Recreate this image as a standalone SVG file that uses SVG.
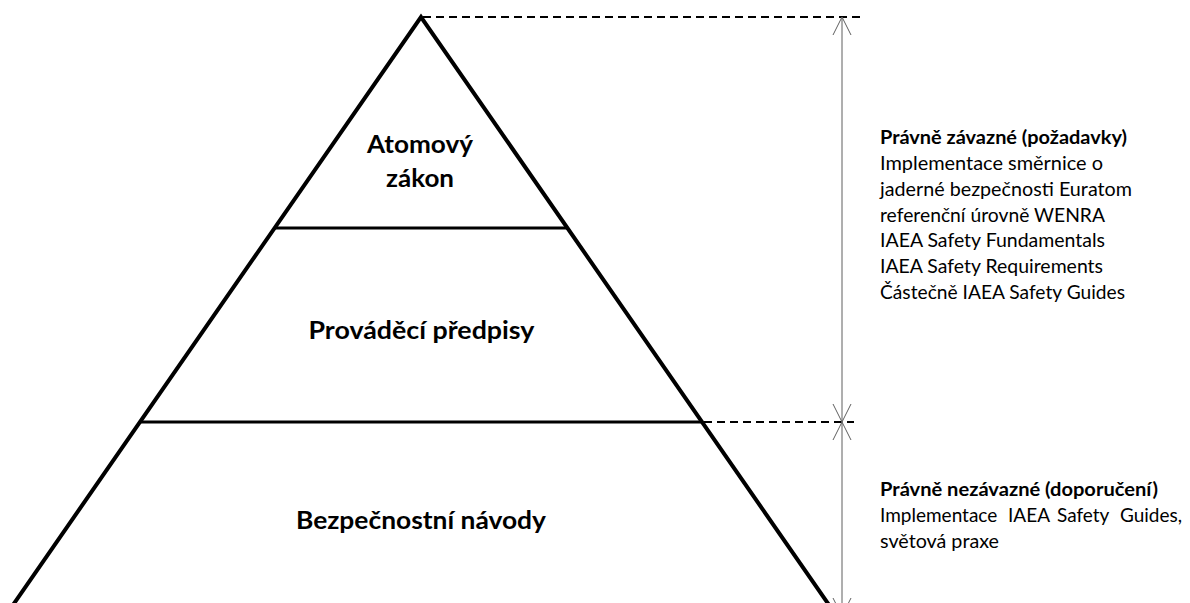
<svg xmlns="http://www.w3.org/2000/svg" width="1190" height="603" viewBox="0 0 1190 603">
<defs>
<style>
.tier{fill:none;stroke:#000;stroke-width:4;stroke-linejoin:miter;stroke-miterlimit:10}
.sep{stroke:#000;stroke-width:3}
.dash{stroke:#000;stroke-width:2;stroke-dasharray:8 5;fill:none}
.dim{stroke:#5f5f5f;stroke-width:1;fill:none}
.lbl{font-family:Lato,"Liberation Sans",sans-serif;font-weight:bold;font-size:25px;fill:#000;text-anchor:middle}
.note{font-family:Lato,"Liberation Sans",sans-serif;font-size:19px;fill:#000}
.noteb{font-family:Lato,"Liberation Sans",sans-serif;font-size:19px;font-weight:bold;fill:#000}
</style>
<marker id="open" viewBox="0 0 20 20" refX="18" refY="10" markerWidth="20" markerHeight="20" markerUnits="userSpaceOnUse" orient="auto-start-reverse">
<path d="M0,1 L18,10 L0,19" fill="none" stroke="#5f5f5f" stroke-width="1"/>
</marker>
</defs>
<rect width="1190" height="603" fill="#fff"/>
<g id="pyramid-outline">
<polyline class="tier" points="9.5,610 421,17 832.5,610"/>
</g>
<g id="tier-top">
<line class="sep" x1="274.5" y1="228" x2="567.5" y2="228"/>
<text class="lbl" x="420" y="153" textLength="106" lengthAdjust="spacingAndGlyphs">Atomový</text>
<text class="lbl" x="420" y="187" textLength="68" lengthAdjust="spacingAndGlyphs">zákon</text>
</g>
<g id="tier-middle">
<line class="sep" x1="140" y1="422" x2="702" y2="422"/>
<text class="lbl" x="421.5" y="339" textLength="226" lengthAdjust="spacingAndGlyphs">Prováděcí předpisy</text>
</g>
<g id="tier-bottom">
<text class="lbl" x="421" y="529" textLength="250" lengthAdjust="spacingAndGlyphs">Bezpečnostní návody</text>
</g>
<g id="connectors">
<line class="dash" x1="423" y1="17" x2="860" y2="17"/>
<line class="dash" x1="704" y1="422" x2="854" y2="422"/>
<line class="dim" x1="842" y1="17" x2="842" y2="422" marker-start="url(#open)" marker-end="url(#open)"/>
<line class="dim" x1="842" y1="422" x2="842" y2="616" marker-start="url(#open)" marker-end="url(#open)"/>
</g>
<g id="note-binding">
<text class="noteb" x="880" y="144" textLength="247" lengthAdjust="spacingAndGlyphs">Právně závazné (požadavky)</text>
<text class="note" x="880" y="170" textLength="223" lengthAdjust="spacingAndGlyphs">Implementace směrnice o</text>
<text class="note" x="880" y="196" textLength="252" lengthAdjust="spacingAndGlyphs">jaderné bezpečnosti Euratom</text>
<text class="note" x="880" y="221.5" textLength="225" lengthAdjust="spacingAndGlyphs">referenční úrovně WENRA</text>
<text class="note" x="880" y="247" textLength="225" lengthAdjust="spacingAndGlyphs">IAEA Safety Fundamentals</text>
<text class="note" x="880" y="273" textLength="223" lengthAdjust="spacingAndGlyphs">IAEA Safety Requirements</text>
<text class="note" x="880" y="298.5" textLength="245" lengthAdjust="spacingAndGlyphs">Částečně IAEA Safety Guides</text>
</g>
<g id="note-nonbinding">
<text class="noteb" x="880" y="496" textLength="278" lengthAdjust="spacingAndGlyphs">Právně nezávazné (doporučení)</text>
<text class="note" y="522"><tspan x="880">Implementace</tspan><tspan x="1008">IAEA</tspan><tspan x="1057">Safety</tspan><tspan x="1120">Guides,</tspan></text>
<text class="note" x="880" y="548" textLength="119" lengthAdjust="spacingAndGlyphs">světová praxe</text>
</g>
</svg>
